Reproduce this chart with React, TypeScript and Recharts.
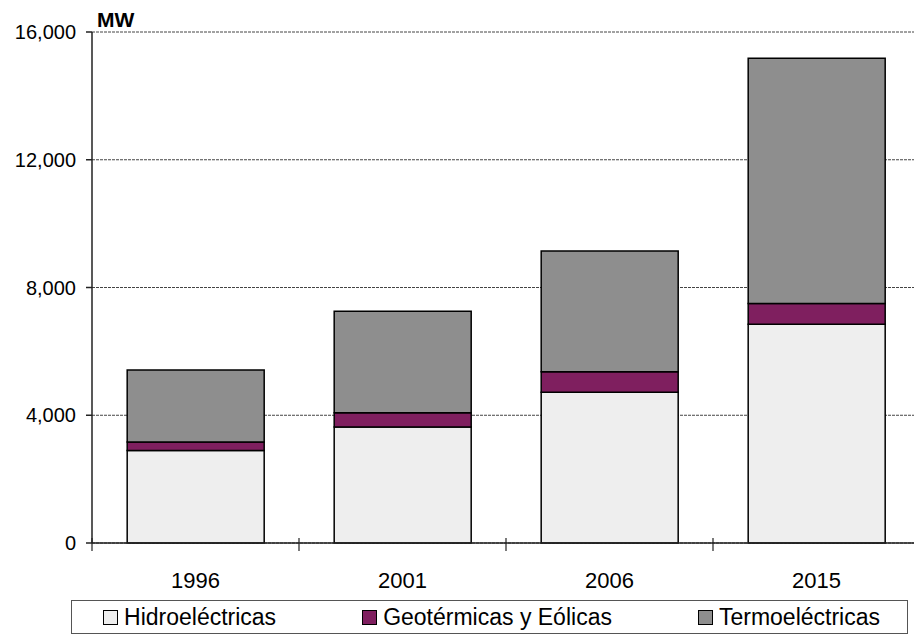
import { BarChart, Bar, XAxis, YAxis, CartesianGrid, Legend } from "recharts";

const years = ["1996", "2001", "2006", "2015"];
const hidro = [2900, 3630, 4720, 6850];
const geo = [260, 450, 640, 650];
const termo = [2260, 3180, 3780, 7680];
const yTicks = [0, 4000, 8000, 12000, 16000];
const seriesNames = ["Hidroeléctricas", "Geotérmicas y Eólicas", "Termoeléctricas"];

const data = years.map((y, i) => ({
  year: y,
  hidro: hidro[i],
  geo: geo[i],
  termo: termo[i],
}));

const font = "'Liberation Sans', Arial, sans-serif";

const XTick = (props: any) => {
  const { x, y, payload } = props;
  const off = payload.offset ?? 103.5;
  return (
    <g>
      <line x1={x - off} x2={x - off} y1={y - 5} y2={y + 8} stroke="#222" strokeWidth={1.2} />
      <text x={x} y={y + 45} textAnchor="middle" fontSize={22} fill="#000" fontFamily={font}>
        {payload.value}
      </text>
    </g>
  );
};

const renderLegend = (props: any) => {
  // keep series order, not alphabetical
  const items = [...props.payload].sort(
    (a: any, b: any) => seriesNames.indexOf(a.value) - seriesNames.indexOf(b.value)
  );
  return (
    <div
      style={{
        boxSizing: "border-box",
        height: 34,
        border: "1px solid #555",
        display: "flex",
        alignItems: "center",
        justifyContent: "center",
        gap: 86,
        paddingLeft: 4,
        fontFamily: font,
        fontSize: 23,
        color: "#000",
      }}
    >
      {items.map((p: any) => (
        <div key={p.value} style={{ display: "flex", alignItems: "center" }}>
          <span
            style={{
              display: "inline-block",
              boxSizing: "border-box",
              width: 15,
              height: 15,
              background: p.color,
              border: "1.5px solid #000",
              marginRight: 6,
            }}
          />
          <span>{p.value}</span>
        </div>
      ))}
    </div>
  );
};

export default function App() {
  return (
    <div style={{ position: "absolute", left: 0, top: 0, width: 914, height: 635, overflow: "hidden", background: "#fff" }}>
      <BarChart
        width={930}
        height={635}
        data={data}
        margin={{ top: 32, right: 10, left: 0, bottom: 1 }}
        barCategoryGap="17%"
      >
        <CartesianGrid vertical={false} stroke="#444" strokeDasharray="3 1" />
        <XAxis
          dataKey="year"
          height={57}
          tickLine={false}
          tickSize={0}
          tickMargin={0}
          stroke="#222"
          strokeWidth={1.5}
          tick={<XTick />}
          interval={0}
        />
        <YAxis
          width={92}
          domain={[0, 16000]}
          ticks={yTicks}
          tickSize={6}
          tickMargin={10}
          stroke="#222"
          strokeWidth={1.5}
          tickFormatter={(v: number) => v.toLocaleString("en-US")}
          tick={{ fill: "#000", fontSize: 20, fontFamily: font }}
          label={{
            content: (p: any) => (
              <text
                x={p.viewBox.x + p.viewBox.width + 5}
                y={p.viewBox.y - 5}
                fontSize={21}
                fontWeight="bold"
                fontFamily={font}
                fill="#000"
              >
                MW
              </text>
            ),
          }}
        />
        <Legend content={renderLegend} wrapperStyle={{ left: 71, width: 837, bottom: 1 }} />
        <Bar dataKey="hidro" name={seriesNames[0]} stackId="a" fill="#eeeeee" stroke="#000" strokeWidth={1.5} isAnimationActive={false} />
        <Bar dataKey="geo" name={seriesNames[1]} stackId="a" fill="#7f1f5f" stroke="#000" strokeWidth={1.5} isAnimationActive={false} />
        <Bar dataKey="termo" name={seriesNames[2]} stackId="a" fill="#8e8e8e" stroke="#000" strokeWidth={1.5} isAnimationActive={false} />
      </BarChart>
    </div>
  );
}
